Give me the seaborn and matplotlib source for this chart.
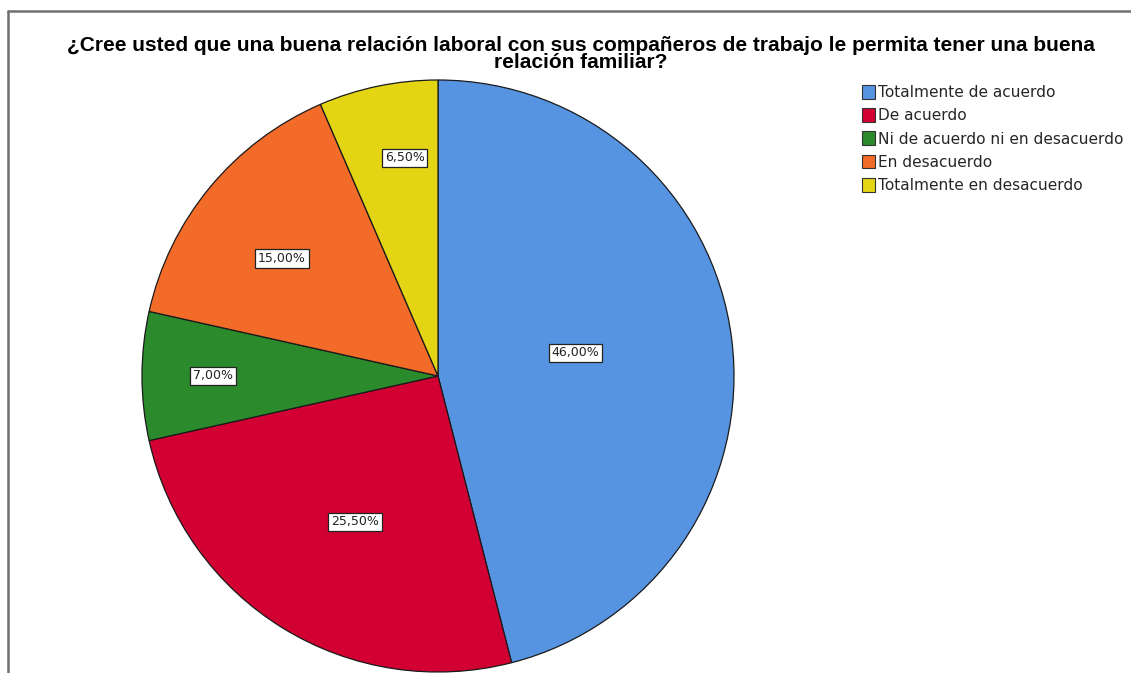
import matplotlib
matplotlib.use("Agg")
import matplotlib.pyplot as plt
import seaborn as sns
import numpy as np

categories = [
    "Totalmente de acuerdo",
    "De acuerdo",
    "Ni de acuerdo ni en desacuerdo",
    "En desacuerdo",
    "Totalmente en desacuerdo",
]
percentages = [46.0, 25.5, 7.0, 15.0, 6.5]
title = ("¿Cree usted que una buena relación laboral con sus compañeros de trabajo le permita tener una buena\n"
         "relación familiar?")

sns.set_theme(style="white")
plt.rcParams["font.family"] = ["Liberation Sans", "DejaVu Sans"]

palette = sns.color_palette(["#5694E2", "#D20032", "#2B8A2B", "#F26B28", "#E3D414"])

W, H = 1131, 673
fig = plt.figure(figsize=(W / 100, H / 100), dpi=100)
fig.patch.set_facecolor("white")

# pie axes placed so the disc has radius ~296 px centred at (438, 376)
cx, cy, r = 438, 376, 296
ax = fig.add_axes([(cx - r) / W, (H - cy - r) / H, 2 * r / W, 2 * r / H])
wedges, _ = ax.pie(
    percentages,
    colors=palette,
    startangle=90,
    counterclock=False,
    radius=1.0,
    wedgeprops=dict(edgecolor="#1a1a1a", linewidth=0.9),
)
ax.set_xlim(-1, 1)
ax.set_ylim(-1, 1)
ax.set_aspect("equal")
ax.axis("off")

# value labels in boxes: radial fraction and position across each wedge
label_r = [0.47, 0.567, 0.76, 0.66, 0.745]
label_f = [0.514, 0.52, 0.5, 0.548, 0.37]
for w, p, lr, lf in zip(wedges, percentages, label_r, label_f):
    ang = np.deg2rad(w.theta1 + lf * (w.theta2 - w.theta1))
    x, y = lr * np.cos(ang), lr * np.sin(ang)
    txt = f"{p:.2f}%".replace(".", ",")
    ax.text(x, y, txt, ha="center", va="center", fontsize=9, color="#222222",
            family=["DejaVu Sans"],
            bbox=dict(boxstyle="square,pad=0.22", facecolor="white",
                      edgecolor="#222222", linewidth=0.9))

fig.text(581 / W, 1 - 54 / H, title, ha="center", va="center", fontsize=15,
         fontweight="bold", color="black", linespacing=0.85)

handles = [plt.Rectangle((0, 0), 1, 1, facecolor=c, edgecolor="#333333", linewidth=0.8)
           for c in palette]
fig.legend(handles, categories, loc="upper left",
           bbox_to_anchor=(862 / W, 1 - 85 / H), frameon=False,
           prop=dict(family=["DejaVu Sans"], size=11.1),
           handlelength=0.85, handleheight=1.0,
           handletextpad=0.2, labelspacing=0.52, borderaxespad=0, borderpad=0)

# outer frame lines along the left and top edges
frame = fig.add_axes([0, 0, 1, 1], zorder=-1)
frame.set_xlim(0, W)
frame.set_ylim(H, 0)
frame.axis("off")
frame.plot([8, 8], [11, H], color="#707070", linewidth=1.8)
frame.plot([8, W], [11, 11], color="#707070", linewidth=1.8)

fig.savefig("out.png", dpi=100, facecolor="white")
